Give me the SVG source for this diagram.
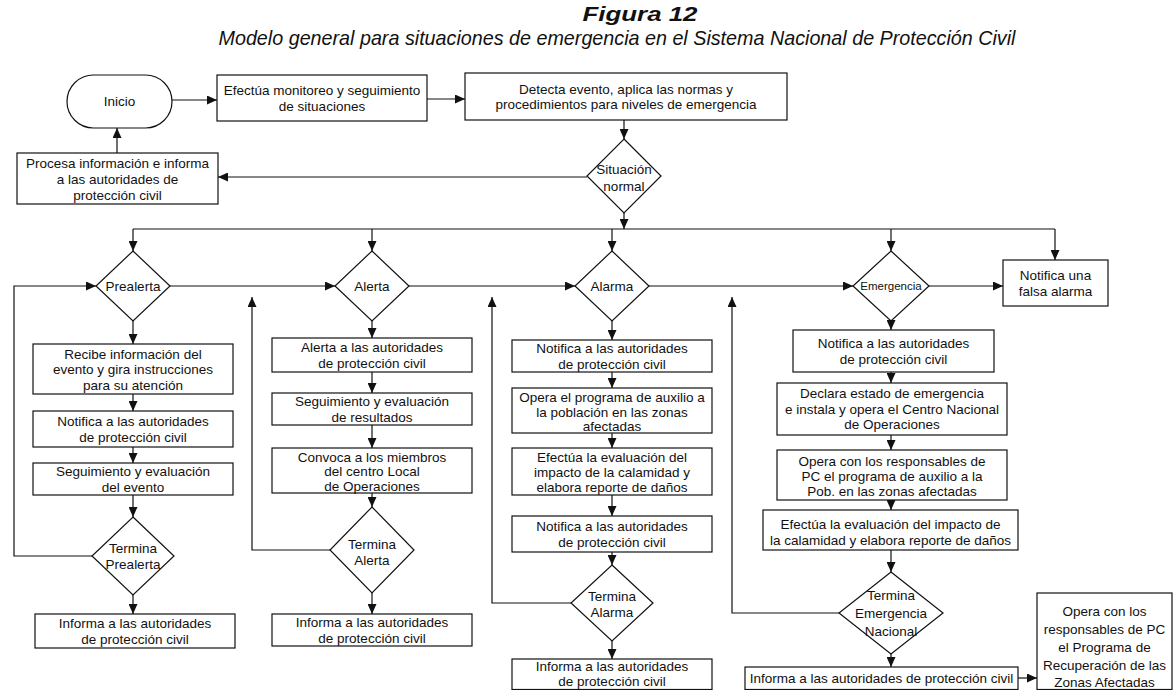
<svg xmlns="http://www.w3.org/2000/svg" width="1174" height="690" viewBox="0 0 1174 690">
<style>
.bx{fill:#fff;stroke:#111;stroke-width:1.2}
.t{font-family:"Liberation Sans",Arial,sans-serif;font-size:13.5px;fill:#111;text-anchor:middle}
.sm{font-size:11.5px}
.c{fill:none;stroke:#111;stroke-width:1.2}
.ttl{font-family:"Liberation Sans Narrow","Liberation Sans",Arial,sans-serif;fill:#111;text-anchor:middle;font-style:italic}
</style>
<defs>
<marker id="ah" markerWidth="10" markerHeight="9" refX="10" refY="4.5" orient="auto" markerUnits="userSpaceOnUse"><path d="M0,0 L10,4.5 L0,9 z" fill="#111"/></marker>
</defs>
<rect width="1174" height="690" fill="#fff"/>
<text class="ttl" x="640" y="21" font-size="21" font-weight="bold" textLength="115" lengthAdjust="spacingAndGlyphs">Figura 12</text>
<text class="ttl" x="617" y="45" font-size="21" textLength="797" lengthAdjust="spacingAndGlyphs">Modelo general para situaciones de emergencia en el Sistema Nacional de Protección Civil</text>

<g id="connectors" class="c">
<path d="M172,100 H217" marker-end="url(#ah)"/>
<path d="M427,99 H465" marker-end="url(#ah)"/>
<path d="M624,120 V139" marker-end="url(#ah)"/>
<path d="M587,177 H218" marker-end="url(#ah)"/>
<path d="M117,153 V128" marker-end="url(#ah)"/>
<path d="M624,213 V229" marker-end="url(#ah)"/>
<path d="M133,229 H1055"/>
<path d="M133,229 V251" marker-end="url(#ah)"/>
<path d="M372,229 V251" marker-end="url(#ah)"/>
<path d="M612,229 V251" marker-end="url(#ah)"/>
<path d="M891,229 V251" marker-end="url(#ah)"/>
<path d="M1055,229 V260" marker-end="url(#ah)"/>
<path d="M170,286 H335" marker-end="url(#ah)"/>
<path d="M409,286 H575" marker-end="url(#ah)"/>
<path d="M649,286 H853" marker-end="url(#ah)"/>
<path d="M929,286 H1003" marker-end="url(#ah)"/>
<!-- Prealerta column -->
<path d="M133,321 V344" marker-end="url(#ah)"/>
<path d="M133,394 V411" marker-end="url(#ah)"/>
<path d="M133,447 V463" marker-end="url(#ah)"/>
<path d="M133,495 V517" marker-end="url(#ah)"/>
<path d="M133,595 V614" marker-end="url(#ah)"/>
<path d="M92,556 H14 V286 H96" marker-end="url(#ah)"/>
<!-- Alerta column -->
<path d="M372,321 V338" marker-end="url(#ah)"/>
<path d="M372,372 V393" marker-end="url(#ah)"/>
<path d="M372,425 V448" marker-end="url(#ah)"/>
<path d="M372,493 V507" marker-end="url(#ah)"/>
<path d="M372,593 V614" marker-end="url(#ah)"/>
<path d="M330,550 H252 V297" marker-end="url(#ah)"/>
<!-- Alarma column -->
<path d="M612,321 V340" marker-end="url(#ah)"/>
<path d="M612,372 V388" marker-end="url(#ah)"/>
<path d="M612,433 V448" marker-end="url(#ah)"/>
<path d="M612,495 V516" marker-end="url(#ah)"/>
<path d="M612,552 V565" marker-end="url(#ah)"/>
<path d="M612,641 V659" marker-end="url(#ah)"/>
<path d="M571,603 H492 V297" marker-end="url(#ah)"/>
<!-- Emergencia column -->
<path d="M891,321 V330" marker-end="url(#ah)"/>
<path d="M891,372 V383" marker-end="url(#ah)"/>
<path d="M891,435 V450" marker-end="url(#ah)"/>
<path d="M891,500 V510" marker-end="url(#ah)"/>
<path d="M891,550 V572" marker-end="url(#ah)"/>
<path d="M891,654 V667" marker-end="url(#ah)"/>
<path d="M839,613 H732 V297" marker-end="url(#ah)"/>
<path d="M1018,678 H1037" marker-end="url(#ah)"/>
</g>

<g id="inicio"><rect class="bx" x="67" y="75" width="105" height="53" rx="26.5"/><text class="t" x="119.5" y="106">Inicio</text></g>
<g id="monitoreo"><rect class="bx" x="217" y="75" width="210" height="46"/><text class="t" x="322" y="95">Efectúa monitoreo y seguimiento</text><text class="t" x="322" y="110.5">de situaciones</text></g>
<g id="detecta"><rect class="bx" x="465" y="73" width="322" height="47"/><text class="t" x="626" y="93.5">Detecta evento, aplica las normas y</text><text class="t" x="626" y="109">procedimientos para niveles de emergencia</text></g>
<g id="procesa"><rect class="bx" x="17" y="153" width="201" height="51"/><text class="t" x="117.5" y="167.5">Procesa información e informa</text><text class="t" x="117.5" y="183.5">a las autoridades de</text><text class="t" x="117.5" y="199.5">protección civil</text></g>
<g id="situacion"><polygon class="bx" points="624,139 661,176 624,213 587,176"/><text class="t" x="624" y="174">Situación</text><text class="t" x="624" y="191">normal</text></g>

<g id="prealerta"><polygon class="bx" points="133,251 170,286 133,321 96,286"/><text class="t" x="133" y="291">Prealerta</text></g>
<g id="pre1"><rect class="bx" x="33" y="344" width="200" height="50"/><text class="t" x="133" y="358.5">Recibe información del</text><text class="t" x="133" y="374">evento y gira instrucciones</text><text class="t" x="133" y="389.5">para su atención</text></g>
<g id="pre2"><rect class="bx" x="33" y="411" width="200" height="36"/><text class="t" x="133" y="426.2">Notifica a las autoridades</text><text class="t" x="133" y="441.7">de protección civil</text></g>
<g id="pre3"><rect class="bx" x="33" y="463" width="200" height="32"/><text class="t" x="133" y="476.2">Seguimiento y evaluación</text><text class="t" x="133" y="491.7">del evento</text></g>
<g id="termina-prealerta"><polygon class="bx" points="133,517 174,556 133,595 92,556"/><text class="t" x="133" y="553">Termina</text><text class="t" x="133" y="569">Prealerta</text></g>
<g id="pre-informa"><rect class="bx" x="35" y="614" width="200" height="34"/><text class="t" x="135" y="628.2">Informa a las autoridades</text><text class="t" x="135" y="643.7">de protección civil</text></g>

<g id="alerta"><polygon class="bx" points="372,251 409,286 372,321 335,286"/><text class="t" x="372" y="291">Alerta</text></g>
<g id="ale1"><rect class="bx" x="272" y="338" width="200" height="34"/><text class="t" x="372" y="352.2">Alerta a las autoridades</text><text class="t" x="372" y="367.7">de protección civil</text></g>
<g id="ale2"><rect class="bx" x="272" y="393" width="200" height="32"/><text class="t" x="372" y="406.2">Seguimiento y evaluación</text><text class="t" x="372" y="421.7">de resultados</text></g>
<g id="ale3"><rect class="bx" x="272" y="448" width="200" height="45"/><text class="t" x="372" y="461.5">Convoca a los miembros</text><text class="t" x="372" y="476">del centro Local</text><text class="t" x="372" y="490.5">de Operaciones</text></g>
<g id="termina-alerta"><polygon class="bx" points="372,507 414,550 372,593 330,550"/><text class="t" x="372" y="549">Termina</text><text class="t" x="372" y="565">Alerta</text></g>
<g id="ale-informa"><rect class="bx" x="272" y="614" width="200" height="32"/><text class="t" x="372" y="627.2">Informa a las autoridades</text><text class="t" x="372" y="642.7">de protección civil</text></g>

<g id="alarma"><polygon class="bx" points="612,251 649,286 612,321 575,286"/><text class="t" x="612" y="291">Alarma</text></g>
<g id="ala1"><rect class="bx" x="512" y="340" width="200" height="32"/><text class="t" x="612" y="353.2">Notifica a las autoridades</text><text class="t" x="612" y="368.7">de protección civil</text></g>
<g id="ala2"><rect class="bx" x="512" y="388" width="200" height="45"/><text class="t" x="612" y="402">Opera el programa de auxilio a</text><text class="t" x="612" y="416.5">la población en las zonas</text><text class="t" x="612" y="431">afectadas</text></g>
<g id="ala3"><rect class="bx" x="512" y="448" width="200" height="47"/><text class="t" x="612" y="461.5">Efectúa la evaluación del</text><text class="t" x="612" y="476.5">impacto de la calamidad y</text><text class="t" x="612" y="491.5">elabora reporte de daños</text></g>
<g id="ala4"><rect class="bx" x="512" y="516" width="200" height="36"/><text class="t" x="612" y="531.2">Notifica a las autoridades</text><text class="t" x="612" y="546.7">de protección civil</text></g>
<g id="termina-alarma"><polygon class="bx" points="612,565 653,603 612,641 571,603"/><text class="t" x="612" y="601">Termina</text><text class="t" x="612" y="617">Alarma</text></g>
<g id="ala-informa"><rect class="bx" x="512" y="659" width="200" height="30.5"/><text class="t" x="612" y="670.5">Informa a las autoridades</text><text class="t" x="612" y="685.5">de protección civil</text></g>

<g id="emergencia"><polygon class="bx" points="891,251 929,286 891,321 853,286"/><text class="t sm" x="891" y="290">Emergencia</text></g>
<g id="falsa"><rect class="bx" x="1003" y="260" width="105" height="46"/><text class="t" x="1055.5" y="280">Notifica una</text><text class="t" x="1055.5" y="296">falsa alarma</text></g>
<g id="eme1"><rect class="bx" x="793" y="330" width="201" height="42"/><text class="t" x="893.5" y="348.2">Notifica a las autoridades</text><text class="t" x="893.5" y="363.7">de protección civil</text></g>
<g id="eme2"><rect class="bx" x="777" y="383" width="230" height="52"/><text class="t" x="892" y="398">Declara estado de emergencia</text><text class="t" x="892" y="413.5">e instala y opera el Centro Nacional</text><text class="t" x="892" y="429">de Operaciones</text></g>
<g id="eme3"><rect class="bx" x="777" y="450" width="230" height="50"/><text class="t" x="892" y="466">Opera con los responsables de</text><text class="t" x="892" y="481">PC el programa de auxilio a la</text><text class="t" x="892" y="496">Pob. en las zonas afectadas</text></g>
<g id="eme4"><rect class="bx" x="763" y="510" width="255" height="40"/><text class="t" x="890.5" y="529">Efectúa la evaluación del impacto de</text><text class="t" x="890.5" y="545">la calamidad y elabora reporte de daños</text></g>
<g id="termina-emergencia"><polygon class="bx" points="891,572 943,613 891,654 839,613"/><text class="t" x="891" y="600">Termina</text><text class="t" x="891" y="618">Emergencia</text><text class="t" x="891" y="636">Nacional</text></g>
<g id="eme-informa"><rect class="bx" x="745" y="667" width="273" height="22.5"/><text class="t" x="881.5" y="683">Informa a las autoridades de protección civil</text></g>
<g id="recuperacion"><rect class="bx" x="1037" y="593" width="135" height="96.5"/><text class="t" x="1104.5" y="616">Opera con los</text><text class="t" x="1104.5" y="634">responsables de PC</text><text class="t" x="1104.5" y="652">el Programa de</text><text class="t" x="1104.5" y="670">Recuperación de las</text><text class="t" x="1104.5" y="687">Zonas Afectadas</text></g>
</svg>
